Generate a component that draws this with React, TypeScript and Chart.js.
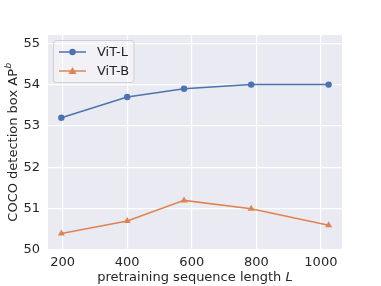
import React, { useEffect, useRef } from "react";
import { Chart, registerables } from "chart.js";

Chart.register(...registerables);

const seqLengths = [196, 400, 576, 784, 1024];
const vitL = [53.2, 53.7, 53.9, 54.0, 54.0];
const vitB = [50.4, 50.7, 51.2, 51.0, 50.6];
const xTicks = [200, 400, 600, 800, 1000];
const yTicks = [50, 51, 52, 53, 54, 55];
const seriesNames = ["ViT-L", "ViT-B"];

const BLUE = "#4C72B0";
const ORANGE = "#DD8452";
const FONT = "DejaVu Sans";
const FS = 13;

const overlayPlugin = {
  id: "overlay",
  beforeDraw(chart: any) {
    const { ctx, chartArea } = chart;
    ctx.save();
    ctx.fillStyle = "#EAEAF2";
    ctx.fillRect(chartArea.left, chartArea.top, chartArea.right - chartArea.left, chartArea.bottom - chartArea.top);
    ctx.restore();
  },
  afterDraw(chart: any) {
    const { ctx, chartArea } = chart;
    ctx.save();
    ctx.fillStyle = "#262626";
    // x title
    const base = "pretraining sequence length ";
    ctx.font = `${FS}px '${FONT}'`;
    const w1 = ctx.measureText(base).width;
    ctx.font = `italic ${FS}px '${FONT}'`;
    const w2 = ctx.measureText("L").width;
    const cx = (chartArea.left + chartArea.right) / 2;
    const x0 = cx - (w1 + w2) / 2;
    ctx.textBaseline = "middle";
    ctx.textAlign = "left";
    ctx.font = `${FS}px '${FONT}'`;
    ctx.fillText(base, x0, 278);
    ctx.font = `italic ${FS}px '${FONT}'`;
    ctx.fillText("L", x0 + w1, 278);

    // y title
    const yt = "COCO detection box AP";
    ctx.font = `${FS}px '${FONT}'`;
    const wy1 = ctx.measureText(yt).width;
    ctx.font = `italic 9px '${FONT}'`;
    const wy2 = ctx.measureText("b").width;
    const cy = (chartArea.top + chartArea.bottom) / 2;
    ctx.translate(14, cy);
    ctx.rotate(-Math.PI / 2);
    const sx = -(wy1 + wy2) / 2;
    ctx.font = `${FS}px '${FONT}'`;
    ctx.fillText(yt, sx, 0);
    ctx.font = `italic 9px '${FONT}'`;
    ctx.fillText("b", sx + wy1 + 0.5, -5);
    ctx.restore();

    // legend
    ctx.save();
    const lx = 53.5, ly = 40.5, lw = 80.5, lh = 42;
    ctx.beginPath();
    if (ctx.roundRect) ctx.roundRect(lx, ly, lw, lh, 3);
    else ctx.rect(lx, ly, lw, lh);
    ctx.fillStyle = "rgba(255,255,255,0.35)";
    ctx.fill();
    ctx.strokeStyle = "rgba(204,204,204,0.9)";
    ctx.lineWidth = 1;
    ctx.stroke();
    const rows = [
      { y: 52, color: BLUE, label: seriesNames[0], tri: false },
      { y: 71, color: ORANGE, label: seriesNames[1], tri: true },
    ];
    rows.forEach((r) => {
      ctx.strokeStyle = r.color;
      ctx.lineWidth = 1.5;
      ctx.beginPath();
      ctx.moveTo(59, r.y);
      ctx.lineTo(86, r.y);
      ctx.stroke();
      ctx.fillStyle = r.color;
      ctx.beginPath();
      if (r.tri) {
        ctx.moveTo(72.5, r.y - 4);
        ctx.lineTo(76.5, r.y + 3);
        ctx.lineTo(68.5, r.y + 3);
        ctx.closePath();
      } else {
        ctx.arc(72.5, r.y, 3.2, 0, Math.PI * 2);
      }
      ctx.fill();
      ctx.fillStyle = "#262626";
      ctx.font = `${FS}px '${FONT}'`;
      ctx.textAlign = "left";
      ctx.textBaseline = "middle";
      ctx.fillText(r.label, 97, r.y + 0.5);
    });
    ctx.restore();
  },
};

export default function App() {
  const ref = useRef<HTMLCanvasElement>(null);
  useEffect(() => {
    const canvas = ref.current!;
    const chart = new Chart(canvas, {
      type: "line",
      data: {
        datasets: [
          {
            label: seriesNames[0],
            data: seqLengths.map((x, i) => ({ x, y: vitL[i] })),
            borderColor: BLUE,
            backgroundColor: BLUE,
            borderWidth: 1.5,
            pointStyle: "circle",
            pointRadius: 3.2,
            pointBorderWidth: 0,
          },
          {
            label: seriesNames[1],
            data: seqLengths.map((x, i) => ({ x, y: vitB[i] })),
            borderColor: ORANGE,
            backgroundColor: ORANGE,
            borderWidth: 1.5,
            pointStyle: "triangle",
            pointRadius: 4,
            pointBorderWidth: 0,
          },
        ],
      },
      plugins: [overlayPlugin],
      options: {
        animation: false,
        responsive: false,
        events: [],
        layout: { padding: { left: 0, right: 39, top: 35, bottom: 0 } },
        plugins: { legend: { display: false }, tooltip: { enabled: false } },
        scales: {
          x: {
            type: "linear",
            min: 154.6,
            max: 1065.4,
            border: { display: false },
            grid: { color: "#ffffff", lineWidth: 1.2, drawTicks: false },
            afterBuildTicks: (s: any) => {
              s.ticks = xTicks.map((v) => ({ value: v }));
            },
            afterFit: (s: any) => {
              s.height = 36;
            },
            ticks: {
              color: "#262626",
              font: { family: FONT, size: FS },
              padding: 5,
              maxRotation: 0,
              autoSkip: false,
              callback: (v: any) => String(v),
            },
          },
          y: {
            type: "linear",
            min: 50,
            max: 55.2,
            border: { display: false },
            grid: { color: "#ffffff", lineWidth: 1.2, drawTicks: false },
            afterBuildTicks: (s: any) => {
              s.ticks = yTicks.map((v) => ({ value: v }));
            },
            afterFit: (s: any) => {
              s.width = 48;
            },
            ticks: {
              color: "#262626",
              font: { family: FONT, size: FS },
              padding: 8,
              autoSkip: false,
              callback: (v: any) => String(v),
            },
          },
        },
      },
    } as any);
    return () => chart.destroy();
  }, []);
  return (
    <div style={{ position: "fixed", left: 0, top: 0, width: 381, height: 286, background: "#fff" }}>
      <canvas ref={ref} width={381} height={286} />
    </div>
  );
}
